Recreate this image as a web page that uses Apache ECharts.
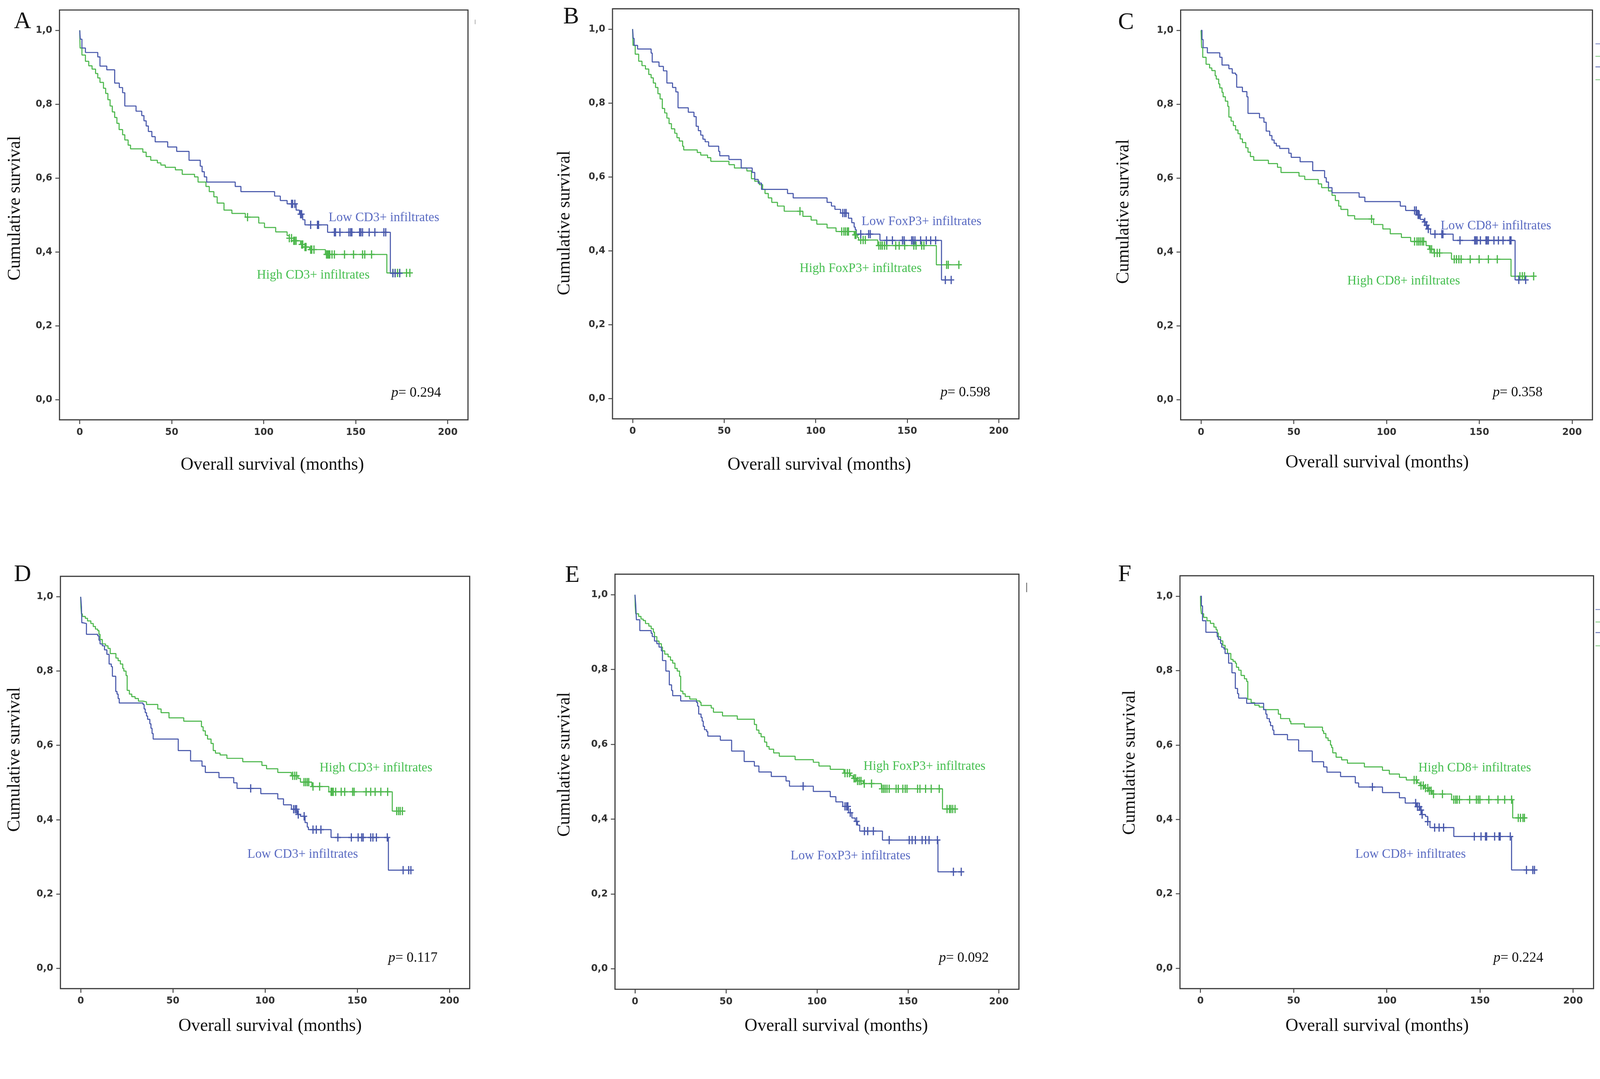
<!DOCTYPE html>
<html><head><meta charset="utf-8">
<script src="https://cdn.jsdelivr.net/npm/echarts@6/dist/echarts.min.js"></script>
<style>html,body{margin:0;padding:0;background:#fff;overflow:hidden}#c{position:absolute;left:0;top:0}</style>
</head><body><div id="c"></div>
<script>
// ---------- tick labels ----------
const xTicks = [0, 50, 100, 150, 200];
const yTicks = [0, 0.2, 0.4, 0.6, 0.8, 1.0];
const panelLetters = ['A', 'B', 'C', 'D', 'E', 'F'];
const pValues = ['0.294', '0.598', '0.358', '0.117', '0.092', '0.224'];
const lowNames = ['Low CD3+ infiltrates', 'Low FoxP3+ infiltrates', 'Low CD8+ infiltrates', 'Low CD3+ infiltrates', 'Low FoxP3+ infiltrates', 'Low CD8+ infiltrates'];
const highNames = ['High CD3+ infiltrates', 'High FoxP3+ infiltrates', 'High CD8+ infiltrates', 'High CD3+ infiltrates', 'High FoxP3+ infiltrates', 'High CD8+ infiltrates'];

// ---------- Panel A ----------
const A_low = [[0,1],[0.3,0.976],[1.2,0.952],[3.1,0.940],[9.8,0.928],[11.0,0.903],[14.7,0.893],[19.0,0.857],[21.5,0.845],[23.3,0.831],[24.5,0.795],[30.6,0.781],[33.7,0.769],[34.9,0.755],[36.1,0.741],[37.3,0.726],[39.2,0.712],[41.0,0.698],[47.8,0.684],[52.7,0.672],[59.4,0.648],[65.5,0.632],[66.5,0.617],[67.7,0.603],[69.0,0.589],[84.5,0.577],[87.6,0.563],[105.9,0.551],[109.0,0.539],[112.7,0.530],[117.6,0.513],[119.4,0.502],[121.2,0.487],[122.4,0.473],[134.7,0.453],[168.8,0.342],[173.9,0.342]];
const A_low_cens = [115.1,115.7,116.9,120.0,120.6,125.5,129.2,129.8,138.4,139.0,141.4,146.3,147.2,147.9,152.1,152.8,153.7,157.3,160.4,165.3,166.3,170.2,171.4,173.9];
const A_high = [[0,1],[0.2,0.952],[1.2,0.933],[3.1,0.916],[4.9,0.904],[6.7,0.895],[8.6,0.883],[9.8,0.871],[11.0,0.859],[12.9,0.843],[14.1,0.829],[15.3,0.812],[16.5,0.795],[17.7,0.779],[19.0,0.764],[20.2,0.748],[21.4,0.731],[23.3,0.717],[24.5,0.703],[26.3,0.689],[27.6,0.679],[34.3,0.670],[36.1,0.658],[38.6,0.648],[42.2,0.641],[44.1,0.635],[46.5,0.629],[52.0,0.622],[55.7,0.610],[62.4,0.603],[64.3,0.589],[68.6,0.577],[70.4,0.563],[72.9,0.549],[74.7,0.532],[78.4,0.513],[82.7,0.504],[90.0,0.494],[97.3,0.478],[100.4,0.466],[106.5,0.454],[112.7,0.444],[113.9,0.437],[116.3,0.430],[120.0,0.420],[122.4,0.413],[124.9,0.406],[133.5,0.393],[166.9,0.343],[179.4,0.343]];
const A_high_cens = [91.2,113.9,115.1,116.3,116.9,117.6,120.6,121.2,122.4,123.0,125.5,126.1,127.3,134.1,134.7,135.3,135.9,137.1,138.4,143.9,148.8,153.7,154.9,158.6,170.2,171.4,172.7,173.9,177.6,179.4];

// ---------- Panel B ----------
const B_low = [[0,1],[0.3,0.975],[0.8,0.956],[2.7,0.946],[10.1,0.935],[10.7,0.911],[14.4,0.899],[16.8,0.887],[18.7,0.854],[21.8,0.842],[23.6,0.830],[24.8,0.787],[30.4,0.775],[33.5,0.763],[34.7,0.737],[35.9,0.725],[37.2,0.713],[38.4,0.702],[39.6,0.695],[41.5,0.683],[47.0,0.669],[47.6,0.657],[52.6,0.647],[59.3,0.624],[65.3,0.612],[66.7,0.593],[68.6,0.583],[70.4,0.566],[84.6,0.555],[87.7,0.543],[106.2,0.531],[108.6,0.521],[110.5,0.512],[113.6,0.502],[117.9,0.488],[119.7,0.476],[121.0,0.464],[121.6,0.457],[122.2,0.445],[135.1,0.428],[168.7,0.321],[174.0,0.321]];
const B_low_cens = [114.8,115.8,116.6,124.6,128.9,129.8,138.8,141.9,147.4,148.3,152.4,153.2,154.2,157.3,160.4,162.8,165.5,170.8,174.0];
const B_high = [[0,1],[0.2,0.956],[1.4,0.932],[3.3,0.913],[5.1,0.901],[7.0,0.892],[8.8,0.877],[10.1,0.868],[11.3,0.854],[12.5,0.842],[13.8,0.825],[15.0,0.811],[16.2,0.785],[17.5,0.773],[18.7,0.759],[19.9,0.744],[21.2,0.730],[23.0,0.718],[24.2,0.706],[25.5,0.697],[27.3,0.683],[27.9,0.673],[35.3,0.666],[37.2,0.659],[40.9,0.652],[42.7,0.642],[52.6,0.633],[55.6,0.624],[62.4,0.616],[64.9,0.595],[66.7,0.588],[69.2,0.579],[71.0,0.566],[72.3,0.555],[74.1,0.543],[76.0,0.531],[79.1,0.521],[82.8,0.507],[93.0,0.493],[97.5,0.483],[100.6,0.472],[106.2,0.462],[111.1,0.452],[121.0,0.443],[122.8,0.436],[123.4,0.429],[133.9,0.414],[165.9,0.362],[178.2,0.362]];
const B_high_cens = [91.4,114.2,115.4,116.3,117.3,117.9,121.5,122.0,124.6,125.9,127.1,134.5,135.5,136.4,137.6,138.8,143.7,145.6,148.6,153.6,154.8,157.9,159.1,171.5,172.4,178.2];

// ---------- Panel C ----------
const C_low = [[0,1],[0.5,0.975],[1.1,0.953],[3.4,0.939],[10.1,0.927],[11.3,0.906],[15.0,0.896],[16.8,0.884],[18.6,0.880],[19.2,0.846],[22.3,0.834],[24.7,0.820],[25.3,0.775],[31.5,0.763],[33.9,0.751],[35.1,0.727],[37.0,0.715],[38.2,0.703],[39.4,0.694],[40.6,0.687],[42.4,0.680],[47.3,0.667],[48.6,0.656],[53.4,0.644],[60.2,0.620],[66.6,0.601],[67.5,0.589],[68.7,0.574],[70.6,0.560],[85.2,0.548],[88.3,0.536],[107.4,0.524],[110.3,0.512],[116.4,0.500],[118.2,0.488],[120.0,0.481],[121.3,0.472],[121.9,0.462],[123.7,0.448],[135.9,0.431],[169.3,0.324],[175.0,0.324]];
const C_low_cens = [115.1,116.0,117.0,117.6,120.6,121.6,122.5,126.1,129.8,130.4,139.6,147.5,148.1,148.8,150.6,153.6,154.2,154.9,157.9,160.3,162.8,166.5,167.1,171.3,175.0];
const C_high = [[0,1],[0.3,0.953],[0.9,0.927],[2.7,0.908],[4.6,0.898],[5.8,0.891],[7.6,0.877],[8.2,0.868],[9.5,0.855],[10.1,0.844],[11.3,0.832],[11.9,0.820],[13.1,0.808],[14.4,0.794],[15.0,0.765],[16.2,0.754],[17.4,0.742],[18.6,0.730],[19.9,0.720],[21.1,0.706],[22.3,0.696],[24.1,0.682],[25.3,0.670],[26.6,0.658],[28.4,0.648],[36.3,0.639],[41.2,0.629],[43.1,0.615],[52.8,0.605],[55.9,0.596],[63.2,0.584],[65.0,0.574],[68.7,0.565],[70.6,0.553],[72.4,0.539],[74.2,0.524],[75.4,0.515],[79.1,0.498],[82.8,0.489],[93.0,0.474],[98.0,0.462],[102.0,0.449],[108.0,0.439],[113.0,0.428],[121.3,0.417],[123.0,0.407],[125.5,0.397],[135.0,0.380],[167.1,0.334],[179.3,0.334]];
const C_high_cens = [91.9,115.1,116.4,117.3,118.2,119.2,120.0,123.5,124.3,125.8,127.3,128.6,136.5,137.7,139.0,140.2,145.1,149.9,154.9,159.7,171.9,173.2,174.4,179.3];

// ---------- Panel D ----------
const D_high = [[0,1],[0.1,0.973],[0.4,0.954],[0.9,0.947],[2.5,0.942],[3.7,0.935],[5.5,0.928],[6.8,0.920],[8.0,0.913],[9.2,0.909],[9.9,0.899],[10.5,0.885],[11.7,0.873],[13.5,0.868],[14.8,0.861],[16.0,0.847],[19.1,0.835],[20.3,0.828],[21.5,0.819],[22.8,0.807],[23.4,0.800],[24.6,0.788],[25.2,0.748],[26.4,0.738],[27.7,0.731],[29.5,0.726],[31.3,0.719],[33.8,0.717],[35.7,0.710],[41.8,0.698],[43.6,0.688],[47.9,0.674],[55.9,0.665],[65.5,0.650],[66.4,0.639],[67.6,0.627],[68.8,0.617],[70.7,0.605],[71.9,0.586],[73.1,0.579],[75.6,0.574],[79.3,0.565],[87.9,0.556],[98.3,0.546],[100.8,0.537],[106.9,0.527],[114.3,0.518],[117.9,0.511],[119.2,0.501],[125.4,0.489],[134.6,0.475],[169.0,0.423],[174.5,0.423]];
const D_high_cens = [115.0,116.1,117.1,121.1,122.0,122.9,123.7,126.0,129.6,135.8,136.4,137.0,138.3,141.3,143.2,147.5,148.3,154.8,157.3,159.7,162.8,166.5,171.4,172.4,173.3,174.5];
const D_low = [[0,1],[0.4,0.973],[0.6,0.930],[1.25,0.928],[3.1,0.899],[9.2,0.895],[9.9,0.883],[10.5,0.873],[11.7,0.868],[12.9,0.857],[14.2,0.845],[15.4,0.819],[16.6,0.812],[17.2,0.786],[19.0,0.745],[19.7,0.738],[20.3,0.726],[20.9,0.714],[33.8,0.710],[34.4,0.698],[35.0,0.688],[35.7,0.679],[36.3,0.670],[37.5,0.658],[38.1,0.646],[38.7,0.632],[39.3,0.617],[52.9,0.586],[59.6,0.558],[65.8,0.544],[67.6,0.527],[75.0,0.513],[83.0,0.499],[84.8,0.484],[97.7,0.470],[106.9,0.456],[110.0,0.440],[114.3,0.428],[117.4,0.414],[119.2,0.409],[121.7,0.392],[122.9,0.380],[123.5,0.373],[135.8,0.352],[166.9,0.264],[179.1,0.264]];
const D_low_cens = [92.2,115.5,116.4,117.1,118.0,121.2,126.0,127.8,130.3,139.5,146.8,150.5,152.4,153.2,157.3,158.5,160.4,166.3,174.9,177.9,179.1];

// ---------- Panel E ----------
const E_high = [[0,1],[0.1,0.971],[0.4,0.949],[2.0,0.942],[3.3,0.935],[4.5,0.931],[5.75,0.923],[7.6,0.916],[8.9,0.909],[10.1,0.900],[10.7,0.888],[12.0,0.876],[13.2,0.869],[14.5,0.860],[15.1,0.850],[16.35,0.841],[18.2,0.834],[19.5,0.825],[20.7,0.817],[21.95,0.803],[23.2,0.796],[24.5,0.782],[25.1,0.742],[26.3,0.735],[27.6,0.728],[30.1,0.721],[33.8,0.716],[35.7,0.712],[36.3,0.704],[41.9,0.697],[43.1,0.686],[48.1,0.676],[56.2,0.667],[65.6,0.653],[66.8,0.638],[68.1,0.629],[69.3,0.620],[71.2,0.606],[72.4,0.594],[73.7,0.587],[76.2,0.577],[79.3,0.568],[88.0,0.559],[98.0,0.552],[101.1,0.542],[107.3,0.533],[114.8,0.523],[118.5,0.516],[119.8,0.509],[121.7,0.502],[125.4,0.495],[135.4,0.481],[169.0,0.427],[175.9,0.427]];
const E_high_cens = [115.4,116.7,117.9,120.4,121.2,122.3,123.3,124.2,126.0,130.0,135.7,136.6,137.5,138.5,139.7,143.5,144.7,147.2,148.5,149.5,155.3,156.6,159.7,162.8,167.2,171.5,172.8,173.6,174.6,175.9];
const E_low = [[0,1],[0.4,0.973],[0.77,0.933],[2.64,0.904],[8.9,0.897],[9.5,0.888],[10.7,0.876],[12.0,0.869],[13.2,0.860],[14.5,0.850],[15.1,0.824],[16.97,0.796],[18.85,0.759],[20.1,0.744],[20.7,0.730],[25.1,0.716],[33.8,0.712],[34.4,0.702],[35.0,0.681],[36.3,0.672],[36.9,0.662],[37.5,0.648],[38.2,0.639],[39.4,0.634],[40.0,0.622],[46.9,0.611],[53.1,0.582],[60.0,0.554],[65.6,0.542],[68.1,0.526],[74.9,0.514],[83.0,0.502],[84.9,0.488],[98.0,0.474],[107.3,0.460],[110.4,0.446],[114.2,0.434],[117.3,0.417],[119.2,0.403],[121.0,0.394],[122.3,0.384],[123.5,0.368],[136.0,0.344],[166.5,0.259],[179.3,0.259]];
const E_low_cens = [92.4,115.4,116.3,117.0,118.3,121.8,126.1,127.9,131.0,139.7,150.7,152.3,154.1,157.8,159.7,161.6,166.2,175.0,179.3];

// ---------- Panel F ----------
const F_high = [[0,1],[0.1,0.972],[0.48,0.953],[1.7,0.943],[3.5,0.934],[5.34,0.927],[7.2,0.917],[8.38,0.910],[9.0,0.901],[9.6,0.891],[10.8,0.880],[12.0,0.868],[13.24,0.858],[14.5,0.846],[16.3,0.830],[17.5,0.825],[18.7,0.820],[19.3,0.809],[20.5,0.801],[21.8,0.787],[23.6,0.778],[24.8,0.771],[25.4,0.723],[27.2,0.714],[29.1,0.707],[31.5,0.702],[33.9,0.695],[41.8,0.683],[43.0,0.671],[47.9,0.664],[48.5,0.657],[55.8,0.648],[65.5,0.638],[66.1,0.631],[67.3,0.619],[68.5,0.612],[69.8,0.600],[70.4,0.593],[71.0,0.579],[72.8,0.567],[75.8,0.560],[78.9,0.551],[88.0,0.541],[97.7,0.532],[101.4,0.522],[106.8,0.513],[110.5,0.506],[116.5,0.498],[117.8,0.491],[120.2,0.484],[122.6,0.477],[124.4,0.468],[134.8,0.453],[167.6,0.404],[173.9,0.404]];
const F_high_cens = [114.7,115.9,118.4,119.6,120.8,122.0,122.9,123.8,125.1,129.9,136.0,137.0,137.8,139.0,144.5,148.1,149.1,150.0,154.8,159.7,163.3,167.0,170.6,171.8,173.1,173.9];
const F_low = [[0,1],[0.5,0.974],[1.1,0.934],[2.9,0.903],[8.4,0.901],[9.0,0.891],[9.6,0.884],[10.8,0.873],[11.4,0.863],[12.6,0.858],[13.2,0.846],[15.1,0.820],[16.9,0.794],[18.7,0.752],[19.9,0.738],[20.5,0.726],[24.8,0.712],[33.9,0.695],[35.1,0.683],[35.7,0.671],[37.0,0.662],[37.6,0.652],[38.8,0.640],[39.4,0.628],[46.7,0.614],[52.7,0.584],[60.0,0.555],[66.1,0.541],[67.9,0.527],[75.2,0.515],[83.1,0.498],[84.9,0.487],[97.7,0.472],[106.8,0.458],[109.9,0.444],[115.9,0.434],[117.8,0.425],[119.0,0.413],[120.8,0.408],[122.0,0.394],[123.2,0.378],[136.0,0.354],[167.0,0.264],[179.3,0.264]];
const F_low_cens = [92.3,115.5,116.5,117.5,118.4,119.0,122.0,125.7,128.1,130.5,147.0,150.6,153.0,153.6,157.9,160.3,160.9,166.3,175.0,178.4,179.3];

const lowCurves = [A_low, B_low, C_low, D_low, E_low, F_low];
const lowCensors = [A_low_cens, B_low_cens, C_low_cens, D_low_cens, E_low_cens, F_low_cens];
const highCurves = [A_high, B_high, C_high, D_high, E_high, F_high];
const highCensors = [A_high_cens, B_high_cens, C_high_cens, D_high_cens, E_high_cens, F_high_cens];

// ---------- layout (pixels at 4236 x 2761) ----------
const grids = [
  {left:157.5, top:26.5, width:1081.5, height:1084.5},
  {left:1621.6, top:23.2, width:1076, height:1085.2},
  {left:3125.8, top:26.5, width:1090.2, height:1084.5},
  {left:160, top:1525.2, width:1083.5, height:1091},
  {left:1628.2, top:1519.4, width:1069.4, height:1098.5},
  {left:3124, top:1523.6, width:1094.9, height:1092.6}
];
const letterPos = [[37,58],[1491,46],[2960,60],[37,1521],[1496,1523],[2960,1521]];
const yTitlePos = [[40,551],[1496,590],[2975,560],[39,2010],[1496,2023],[2992,2018]];
const xTitlePos = [[721,1231],[2169,1231],[3646,1225],[715,2716],[2214,2716],[3646,2716]];
const lowLabelPos = [[870,576],[2281,587],[3814,598],[655,2261],[2093,2265],[3588,2261]];
const highLabelPos = [[680,728],[2117,711],[3567,744],[846,2033],[2286,2028],[3755,2033]];
const pPos = [[1036,1040],[2490,1039],[3952,1039],[1028,2535],[2486,2535],[3954,2535]];
// small cropped-legend remnants at panel edges: [x1, y1, x2, y2, colour]
const remnants = [
  [1258,52,1258,64,'#bbbbbb'],
  [4224,116,4236,116,'#8893c8'],[4224,149,4236,149,'#8fd08f'],[4224,177,4236,177,'#6c78b8'],[4224,211,4236,211,'#8fd08f'],
  [2718,1542,2718,1567,'#777777'],
  [4224,1613,4236,1613,'#8893c8'],[4224,1646,4236,1646,'#8fd08f'],[4224,1674,4236,1674,'#6c78b8'],[4224,1709,4236,1709,'#8fd08f']
];

// scale everything to the real viewport
const W = window.innerWidth || 4236, H = window.innerHeight || 2761;
const S = Math.min(W / 4236, H / 2761);
const el = document.getElementById('c');
el.style.width = (4236 * S) + 'px';
el.style.height = (2761 * S) + 'px';

const BLUE = '#4858ab', GREEN = '#4cb74c';
const BLUE_TXT = '#5a6bc2', GREEN_TXT = '#46bf50';
const SERIF = '"Liberation Serif", "Times New Roman", serif';
const SANS = '"DejaVu Sans", Verdana, sans-serif';
const PLUS = 'path://M6.4,0 H9.6 V9.4 H16 V12.6 H9.6 V22 H6.4 V12.6 H0 V9.4 H6.4 Z';

function levelAt(steps, t) {
  let s = steps[0][1];
  for (const [x, y] of steps) { if (x <= t) s = y; else break; }
  return s;
}

const option = {
  animation: false,
  backgroundColor: '#ffffff',
  grid: grids.map(g => ({
    show: true, borderColor: '#3c3c3c', borderWidth: 3 * S, backgroundColor: 'transparent',
    containLabel: false, outerBoundsMode: 'none',
    left: g.left * S, top: g.top * S, width: g.width * S, height: g.height * S
  })),
  xAxis: grids.map((g, i) => ({
    gridIndex: i, type: 'value', min: -11, max: 211,
    axisLine: {show: false, onZero: false}, splitLine: {show: false},
    axisTick: {show: true, length: 11 * S, lineStyle: {color: '#444', width: 2.5 * S}, customValues: xTicks},
    axisLabel: {customValues: xTicks, margin: 21 * S, color: '#333', fontSize: 25 * S, fontWeight: 'bold', fontFamily: SANS}
  })),
  yAxis: grids.map((g, i) => ({
    gridIndex: i, type: 'value', min: -0.055, max: 1.055,
    axisLine: {show: false, onZero: false}, splitLine: {show: false},
    axisTick: {show: true, length: 11 * S, lineStyle: {color: '#444', width: 2.5 * S}, customValues: yTicks},
    axisLabel: {customValues: yTicks, margin: 19 * S, color: '#333', fontSize: 25 * S, fontWeight: 'bold', fontFamily: SANS,
      formatter: v => v.toFixed(1).replace('.', ',')}
  })),
  series: [],
  graphic: []
};

for (let i = 0; i < 6; i++) {
  const groups = [
    {curve: highCurves[i], cens: highCensors[i], color: GREEN},
    {curve: lowCurves[i], cens: lowCensors[i], color: BLUE}
  ];
  groups.forEach(gr => {
    option.series.push({
      type: 'line', step: 'end', xAxisIndex: i, yAxisIndex: i,
      data: gr.curve, showSymbol: false, symbol: 'none', silent: true,
      lineStyle: {color: gr.color, width: 2.8 * S}, z: 3
    });
    option.series.push({
      type: 'scatter', xAxisIndex: i, yAxisIndex: i, silent: true,
      data: gr.cens.map(t => [t, levelAt(gr.curve, t)]),
      symbol: PLUS, symbolSize: [16 * S, 22 * S],
      itemStyle: {color: gr.color, opacity: 1}, z: 4
    });
  });

  const f = (sz) => (sz * S) + 'px ' + SERIF;
  option.graphic.push(
    {type: 'text', x: letterPos[i][0] * S, y: letterPos[i][1] * S, silent: true,
     style: {text: panelLetters[i], font: f(63), fill: '#111', align: 'left', verticalAlign: 'middle'}},
    {type: 'text', x: yTitlePos[i][0] * S, y: yTitlePos[i][1] * S, rotation: Math.PI / 2, silent: true,
     style: {text: 'Cumulative survival', font: f(47), fill: '#111', align: 'center', verticalAlign: 'middle'}},
    {type: 'text', x: xTitlePos[i][0] * S, y: xTitlePos[i][1] * S, silent: true,
     style: {text: 'Overall survival (months)', font: f(47), fill: '#111', align: 'center', verticalAlign: 'middle'}},
    {type: 'text', x: lowLabelPos[i][0] * S, y: lowLabelPos[i][1] * S, silent: true,
     style: {text: lowNames[i], font: f(34), fill: BLUE_TXT, align: 'left', verticalAlign: 'middle'}},
    {type: 'text', x: highLabelPos[i][0] * S, y: highLabelPos[i][1] * S, silent: true,
     style: {text: highNames[i], font: f(34), fill: GREEN_TXT, align: 'left', verticalAlign: 'middle'}},
    {type: 'text', x: pPos[i][0] * S, y: pPos[i][1] * S, silent: true,
     style: {text: '{i|p}= ' + pValues[i], fontFamily: SERIF, fontSize: 37 * S, fill: '#111', align: 'left', verticalAlign: 'middle',
       rich: {i: {fontStyle: 'italic', fontFamily: SERIF, fontSize: 37 * S, fill: '#111'}}}}
  );
}
remnants.forEach(r => option.graphic.push({
  type: 'line', silent: true,
  shape: {x1: r[0] * S, y1: r[1] * S, x2: r[2] * S, y2: r[3] * S},
  style: {stroke: r[4], lineWidth: 2.5 * S}
}));

const chart = echarts.init(el, null, {renderer: 'canvas'});
chart.setOption(option);
</script>
</body></html>
